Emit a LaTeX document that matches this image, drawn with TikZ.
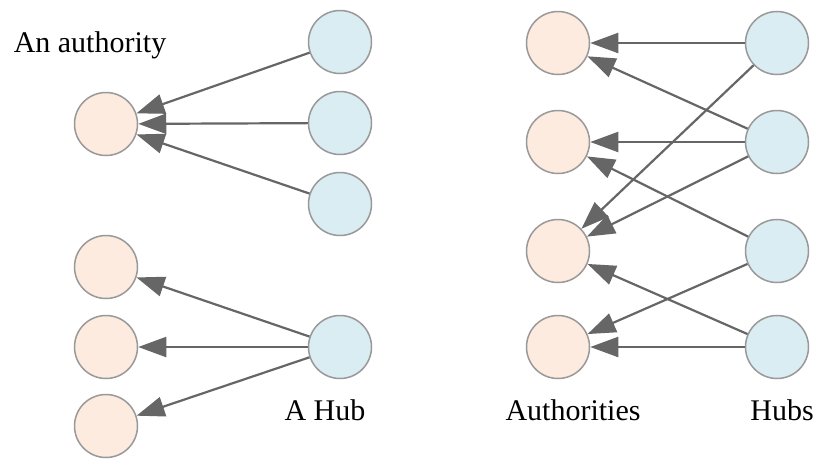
\documentclass[tikz,border=0pt]{standalone}
\usepackage{fontspec}
\setmainfont{Liberation Serif}
\usetikzlibrary{arrows.meta}
\definecolor{authfill}{HTML}{FDEBDF}
\definecolor{hubfill}{HTML}{DAEDF2}
\definecolor{nodeline}{HTML}{999999}
\definecolor{edgeline}{HTML}{666666}
\begin{document}
\begin{tikzpicture}[x=1pt,y=-1pt,
  auth/.style={circle,draw=nodeline,fill=authfill,line width=1.5pt,minimum size=63pt,inner sep=0pt},
  hub/.style={circle,draw=nodeline,fill=hubfill,line width=1.5pt,minimum size=63pt,inner sep=0pt},
  link/.style={draw=edgeline,fill=edgeline,line width=2.2pt,arrows={-Triangle[length=28pt,width=20pt]}},
  lab/.style={font=\fontsize{30}{36}\selectfont,inner sep=0pt}]
\useasboundingbox (0,0) rectangle (816,459);
% left top
\node[auth] (a0) at (106,124) {};
\node[hub] (h1) at (340,42) {};
\node[hub] (h2) at (340,123) {};
\node[hub] (h3) at (340,204) {};
\node[lab] (lab1) at (90,45) {An authority};
\path[link] (h1) -- (a0);
\path[link] (h2) -- (a0);
\path[link] (h3) -- (a0);
% left bottom
\node[auth] (b1) at (106,267) {};
\node[auth] (b2) at (106,347) {};
\node[auth] (b3) at (106,426) {};
\node[hub] (hub) at (340,347) {};
\node[lab] (lab2) at (325,410) {A Hub};
\path[link] (hub) -- (b1);
\path[link] (hub) -- (b2);
\path[link] (hub) -- (b3);
% right
\node[auth] (r1) at (558,43) {};
\node[auth] (r2) at (558,142) {};
\node[auth] (r3) at (558,251) {};
\node[auth] (r4) at (558,347) {};
\node[hub] (s1) at (777,43) {};
\node[hub] (s2) at (777,142) {};
\node[hub] (s3) at (777,251) {};
\node[hub] (s4) at (777,347) {};
\node[lab] (lab3) at (573,410) {Authorities};
\node[lab] (lab4) at (782,410) {Hubs};
\path[link] (s1) -- (r1);
\path[link] (s2) -- (r1);
\path[link] (s1) -- (r3);
\path[link] (s2) -- (r2);
\path[link] (s3) -- (r2);
\path[link] (s2) -- (r3);
\path[link] (s4) -- (r3);
\path[link] (s3) -- (r4);
\path[link] (s4) -- (r4);
\end{tikzpicture}
\end{document}
